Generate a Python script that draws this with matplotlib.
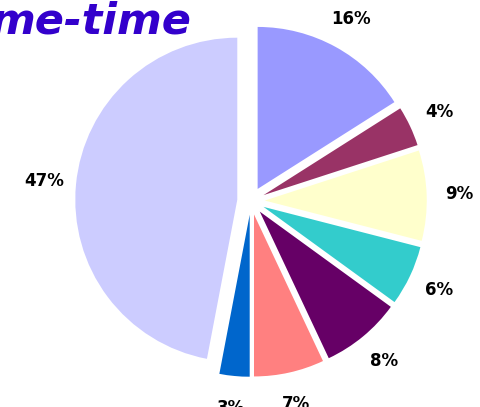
import numpy as np
import matplotlib.pyplot as plt

shares = [16, 4, 9, 6, 8, 7, 3, 47]
labels = ['16%', '4%', '9%', '6%', '8%', '7%', '3%', '47%']
colors = ['#9999FF', '#993366', '#FFFFCC', '#33CCCC',
          '#660066', '#FF8080', '#0066CC', '#CCCCFF']

W, H = 481, 407
R = 162.0          # pie radius in pixels
cx, cy = 251, 201  # pie centre, pixels from top-left

fig = plt.figure(figsize=(W / 100, H / 100), dpi=100)
ax = fig.add_axes([0, 0, 1, 1])

wedges, texts = ax.pie(shares, colors=colors, startangle=90, counterclock=False,
                       explode=[0.085] * len(shares), labels=labels,
                       labeldistance=1.2, radius=1.0,
                       textprops=dict(fontsize=12, fontweight='bold',
                                      color='black', ha='center', va='center'))
for t in texts:
    t.set_horizontalalignment('center')

# pie() resets the limits, so set them afterwards
ax.set_xlim(-cx / R, (W - cx) / R)
ax.set_ylim(-(H - cy) / R, cy / R)
ax.set_aspect('equal')
ax.axis('off')

fig.text(-0.02, 1.0, 'me-time', fontsize=31, fontweight='bold', fontstyle='italic',
         color='#3300CC', ha='left', va='top')

fig.savefig('out.png', dpi=100)
